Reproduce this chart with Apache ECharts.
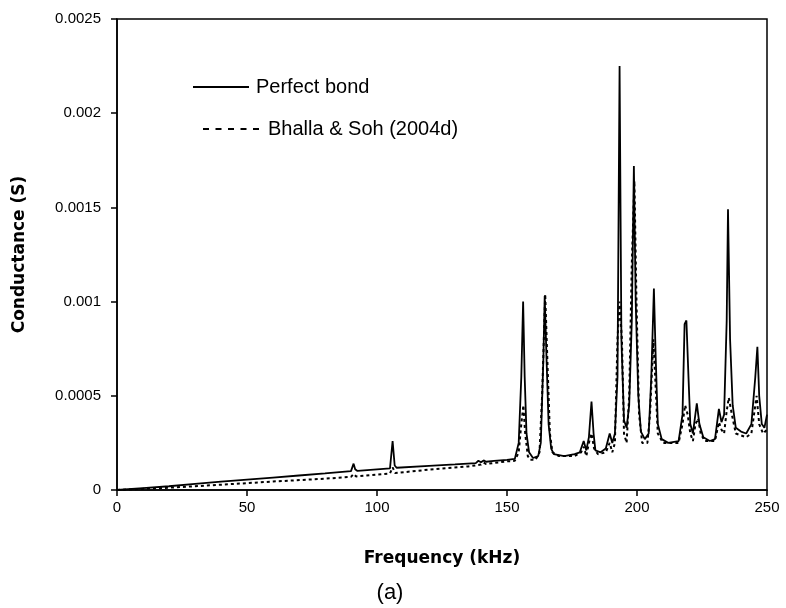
<!DOCTYPE html>
<html>
<head>
<meta charset="utf-8">
<title>Conductance</title>
<script src="https://cdn.jsdelivr.net/npm/echarts/dist/echarts.min.js"></script>
<style>
  html, body { margin: 0; padding: 0; background: #fff; }
  #content { width: 786px; height: 608px; }
</style>
</head>
<body>
<div id="content"></div>
<script>
// axis ranges
var freqTicks = [0, 50, 100, 150, 200, 250];
var condTicks = [0, 0.0005, 0.001, 0.0015, 0.002, 0.0025];

// Perfect bond (solid line)
var perfectFreq = [0, 10, 20, 30, 40, 50, 60, 70, 80, 90, 91, 91.6, 92.5, 100, 105, 106, 106.8, 107.6, 120, 130, 138, 139, 140, 141, 142, 145, 150, 153,
    154.5, 155.5, 156.2, 156.8, 157.5, 158.5, 160, 162, 163, 164, 164.5, 165.2, 166, 167, 168, 172, 176, 178, 179.5, 180.5, 181.5, 182.5, 183.3, 184,
    186, 188, 189.5, 190.5, 191.5, 192.5, 193.3, 194, 195, 196, 197, 198, 198.8, 199.5, 200.5, 201.5, 203, 204.5, 205.5, 206.5, 207.2, 208, 209.5,
    212, 216, 217.5, 218.3, 219, 219.8, 220.5, 221.5, 223, 224, 225.5, 228, 230, 231.5, 232.5, 233.5, 234.5, 235, 235.8, 236.8, 238, 240, 242, 244,
    245.5, 246.3, 247, 248, 249, 250];
var perfectG = [0, 0.00001, 0.00002, 0.000032, 0.000044, 0.000055, 0.000066, 0.000077, 0.000088, 0.0001, 0.00014, 0.00011, 0.000101, 0.00011, 0.000115, 0.00026, 0.00013, 0.000118, 0.000128, 0.000136, 0.000143, 0.000155, 0.000147, 0.000157, 0.00015, 0.000155, 0.00016, 0.000165,
    0.00025, 0.0006, 0.001, 0.0006, 0.0003, 0.0002, 0.00017, 0.00018, 0.00025, 0.0007, 0.00103, 0.0007, 0.00035, 0.00022, 0.00019, 0.00018, 0.00019, 0.0002, 0.00026, 0.00021, 0.00028, 0.00047, 0.0003, 0.00021,
    0.0002, 0.00022, 0.0003, 0.00025, 0.0003, 0.0006, 0.00225, 0.0008, 0.00037, 0.00033, 0.00045, 0.0009, 0.00172, 0.001, 0.0005, 0.00031, 0.00027, 0.0003, 0.0006, 0.00107, 0.0007, 0.00035, 0.00027,
    0.00025, 0.00026, 0.0004, 0.00088, 0.0009, 0.0006, 0.00035, 0.0003, 0.00046, 0.00035, 0.00028, 0.00026, 0.00027, 0.00043, 0.00036, 0.0004, 0.0009, 0.00149, 0.0008, 0.00045, 0.00033, 0.00031, 0.0003, 0.00035,
    0.0006, 0.00076, 0.0005, 0.00035, 0.00033, 0.0004];

// Bhalla & Soh (2004d) (dashed line)
var bhallaFreq = [0, 20, 40, 60, 80, 90, 91, 92, 100, 105, 106, 107, 120, 135, 140, 141, 142, 150, 153, 154.5, 155.5, 156.3, 157, 158, 159, 161, 162.5, 163.5,
    164.7, 165.5, 166.5, 167.5, 170, 176, 178.5, 179.5, 180.5, 181.5, 182.5, 183.5, 185, 188, 189.5, 190.5, 191.5, 192.5, 193.3, 194.2, 195, 196, 197,
    198, 199, 199.8, 200.8, 202, 204, 205, 206.3, 207, 208, 210, 216, 217.5, 218.5, 219.5, 220.5, 221.5, 222.5, 223.5, 224.5, 226, 230, 231.5, 232.5,
    233.5, 234.5, 235.3, 236.5, 238, 242, 244, 246, 247, 248.5, 250];
var bhallaG = [0, 0.000012, 0.000028, 0.000045, 0.00006, 0.00007, 0.000085, 0.000072, 0.000082, 0.000088, 0.00012, 0.00009, 0.000108, 0.000125, 0.000135, 0.000145, 0.000138, 0.000152, 0.000155, 0.0002, 0.00035, 0.00045, 0.0003, 0.00018, 0.00016, 0.00016, 0.0002, 0.0005,
    0.00104, 0.0007, 0.0003, 0.0002, 0.00018, 0.00018, 0.0002, 0.00023, 0.00018, 0.00025, 0.0003, 0.00022, 0.00019, 0.0002, 0.00025, 0.0002, 0.00025, 0.0008, 0.001, 0.0008, 0.0003, 0.00025, 0.0005,
    0.0012, 0.00164, 0.001, 0.0004, 0.00025, 0.00025, 0.0004, 0.0008, 0.0006, 0.0003, 0.00025, 0.00025, 0.00035, 0.00045, 0.0004, 0.0003, 0.00026, 0.00035, 0.00038, 0.0003, 0.00026, 0.00026, 0.00036, 0.00032,
    0.0003, 0.00042, 0.00049, 0.0004, 0.0003, 0.00028, 0.0003, 0.0005, 0.00035, 0.0003, 0.00032];

function pairs(xs, ys) {
    var out = [];
    for (var i = 0; i < xs.length; i++) {
        out.push([xs[i], ys[i]]);
    }
    return out;
}

var myChart = echarts.init(document.getElementById("content"), null, { renderer: "canvas" });

var tickFont = "Liberation Sans, Arial, sans-serif";
var nameFont = "DejaVu Sans, sans-serif";

// legend icons: plain bar for the solid line, five dashes for the dashed one
var solidIcon = "path://M0,0H56V2H0Z";
var dashIcon = "path://M0,0H6V2H0Z M12.5,0H18.5V2H12.5Z M25,0H31V2H25Z M37.5,0H43.5V2H37.5Z M50,0H56V2H50Z";

myChart.setOption({
    animation: false,
    backgroundColor: "#fff",
    grid: {
        left: 117,
        right: 19,
        top: 19,
        bottom: 118,
        show: true,
        borderColor: "#000",
        borderWidth: 1.5,
        backgroundColor: "transparent"
    },
    legend: [{
        data: [{ name: "Perfect bond", icon: solidIcon }],
        left: 193,
        top: 77,
        padding: 0,
        itemWidth: 56,
        itemHeight: 2,
        textStyle: { fontFamily: tickFont, fontSize: 20, color: "#000", padding: [0, 0, 0, 2] }
    }, {
        data: [{ name: "Bhalla & Soh (2004d)", icon: dashIcon }],
        left: 203,
        top: 119,
        padding: 0,
        itemWidth: 56,
        itemHeight: 2,
        textStyle: { fontFamily: tickFont, fontSize: 20, color: "#000", padding: [0, 0, 0, 4] }
    }],
    xAxis: {
        type: "value",
        min: freqTicks[0],
        max: freqTicks[freqTicks.length - 1],
        interval: 50,
        name: "Frequency (kHz)",
        nameLocation: "middle",
        nameGap: 60,
        nameTextStyle: { fontFamily: nameFont, fontWeight: "bold", fontSize: 17, color: "#000" },
        axisLine: { show: true, lineStyle: { color: "#000", width: 1.5 } },
        axisTick: { show: true, length: 6, inside: false, lineStyle: { color: "#000", width: 1.5 } },
        axisLabel: { fontFamily: tickFont, fontSize: 15, color: "#000", margin: 10 },
        splitLine: { show: false }
    },
    yAxis: {
        type: "value",
        min: condTicks[0],
        max: condTicks[condTicks.length - 1],
        interval: 0.0005,
        name: "Conductance (S)",
        nameLocation: "middle",
        nameGap: 89,
        nameTextStyle: { fontFamily: nameFont, fontWeight: "bold", fontSize: 17, color: "#000" },
        axisLine: { show: true, lineStyle: { color: "#000", width: 1.5 } },
        axisTick: { show: true, length: 6, inside: false, lineStyle: { color: "#000", width: 1.5 } },
        axisLabel: {
            fontFamily: tickFont,
            fontSize: 15,
            color: "#000",
            margin: 16,
            formatter: function(v) {
                return String(parseFloat(v.toPrecision(4)));
            }
        },
        splitLine: { show: false }
    },
    series: [{
        name: "Perfect bond",
        type: "line",
        data: pairs(perfectFreq, perfectG),
        symbol: "none",
        color: "#000",
        lineStyle: { color: "#000", width: 1.8, type: "solid" },
        z: 3
    }, {
        name: "Bhalla & Soh (2004d)",
        type: "line",
        data: pairs(bhallaFreq, bhallaG),
        symbol: "none",
        color: "#000",
        lineStyle: { color: "#000", width: 2, type: [3, 3] },
        z: 4
    }],
    graphic: [{
        type: "text",
        style: {
            text: "(a)",
            x: 390,
            y: 593,
            textAlign: "center",
            textVerticalAlign: "middle",
            font: "22px Liberation Sans, Arial, sans-serif",
            fill: "#000"
        }
    }]
});
</script>
</body>
</html>
